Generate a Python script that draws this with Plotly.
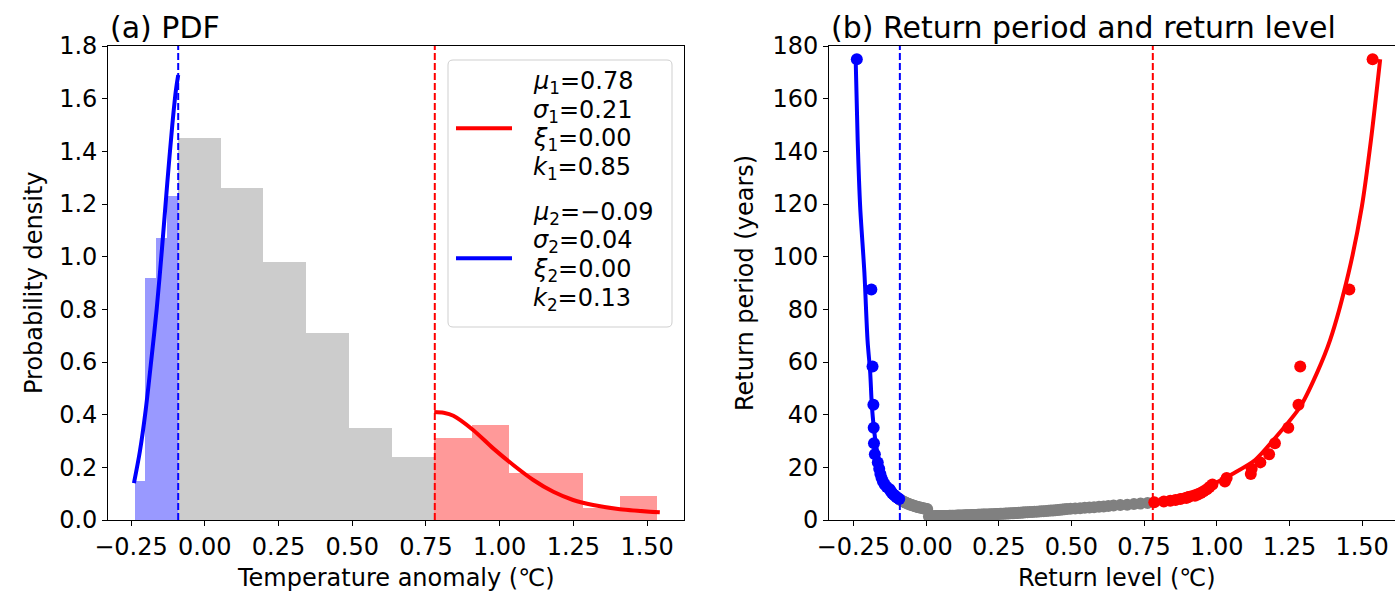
import plotly.graph_objects as go

# ---------------- data ----------------
# fitted tail parameters (upper tail = 1, lower tail = 2)
mu = [0.78, -0.09]
sigma = [0.21, 0.04]
xi = [0.00, 0.00]
kk = [0.85, 0.13]

# histogram (density) of temperature anomalies, split by tail
blue_edges = [-0.236, -0.200, -0.163, -0.127, -0.090]
blue_density = [0.15, 0.92, 1.07, 1.23]
gray_edges = [-0.090, 0.055, 0.200, 0.345, 0.490, 0.635, 0.780]
gray_density = [1.45, 1.26, 0.98, 0.71, 0.35, 0.24]
red_edges = [0.780, 0.906, 1.031, 1.157, 1.283, 1.409, 1.535]
red_density = [0.31, 0.36, 0.18, 0.18, 0.045, 0.09]

# fitted tail densities
blue_pdf_x = [-0.240, -0.220, -0.200, -0.180, -0.163, -0.145, -0.127, -0.110, -0.098, -0.090]
blue_pdf_y = [0.14, 0.26, 0.42, 0.62, 0.80, 1.03, 1.28, 1.50, 1.63, 1.69]
red_pdf_x = [0.778, 0.810, 0.843, 0.910, 0.978, 1.046, 1.114, 1.182, 1.249, 1.317, 1.408, 1.543]
red_pdf_y = [0.41, 0.407, 0.396, 0.342, 0.272, 0.209, 0.152, 0.107, 0.076, 0.057, 0.041, 0.029]

# empirical return periods (years) of the observations
blue_rl_x = [-0.238, -0.188, -0.184, -0.181, -0.180, -0.179, -0.176, -0.166, -0.161,
             -0.157, -0.153, -0.148, -0.142, -0.135, -0.125, -0.121, -0.117, -0.112,
             -0.107, -0.102, -0.097, -0.092]
blue_rl_T = [175.0, 87.5, 58.33, 43.75, 35.0, 29.17, 25.0, 21.88, 19.44, 17.5, 15.91,
             14.58, 13.46, 12.5, 11.67, 10.94, 10.29, 9.72, 9.21, 8.75, 8.33, 7.95]

gray_rl_x = [-0.088, -0.083, -0.078, -0.073, -0.068, -0.063, -0.058, -0.054, -0.049, -0.044,
             -0.040, -0.035, -0.030, -0.026, -0.021, -0.016, -0.011, -0.006, -0.001, 0.004,
             0.010, 0.013, 0.016, 0.018, 0.021, 0.024, 0.026, 0.029, 0.032, 0.034,
             0.037, 0.040, 0.042, 0.045, 0.048, 0.050, 0.053,
             0.057, 0.062, 0.066, 0.071, 0.075, 0.080, 0.084, 0.089, 0.093, 0.098,
             0.102, 0.107, 0.111, 0.116, 0.120, 0.125, 0.129, 0.134, 0.138, 0.143,
             0.147, 0.152, 0.156, 0.161, 0.165, 0.170, 0.174, 0.179, 0.183, 0.188,
             0.192, 0.197,
             0.203, 0.209, 0.215, 0.220, 0.226, 0.232, 0.238, 0.244, 0.249, 0.255,
             0.261, 0.267, 0.273, 0.278, 0.284, 0.290, 0.296, 0.302, 0.307, 0.313,
             0.319, 0.325, 0.331, 0.336, 0.342,
             0.349, 0.357, 0.365, 0.373, 0.381, 0.389, 0.397, 0.405, 0.413, 0.421,
             0.429, 0.437, 0.445, 0.453, 0.461, 0.469, 0.477, 0.485,
             0.497, 0.513, 0.530, 0.546, 0.562, 0.578, 0.595, 0.611, 0.627,
             0.645, 0.668, 0.692, 0.715, 0.738, 0.762]
gray_rl_T = [7.61, 7.29, 7.00, 6.73, 6.48, 6.25, 6.03, 5.83, 5.65, 5.47,
             5.30, 5.15, 5.00, 4.86, 4.73, 4.61, 4.49, 4.38, 4.27, 4.17,
             1.32, 1.33, 1.34, 1.35, 1.36, 1.37, 1.38, 1.39, 1.40, 1.41,
             1.42, 1.43, 1.45, 1.46, 1.47, 1.48, 1.50,
             1.51, 1.52, 1.54, 1.55, 1.56, 1.58, 1.59, 1.61, 1.62, 1.64,
             1.65, 1.67, 1.68, 1.70, 1.72, 1.73, 1.75, 1.77, 1.79, 1.80,
             1.82, 1.84, 1.86, 1.88, 1.90, 1.92, 1.94, 1.97, 1.99, 2.01,
             2.03, 2.06,
             2.08, 2.11, 2.13, 2.16, 2.19, 2.22, 2.24, 2.27, 2.30, 2.33,
             2.36, 2.40, 2.43, 2.46, 2.50, 2.54, 2.57, 2.61, 2.65, 2.69,
             2.73, 2.78, 2.82, 2.87, 2.92,
             2.97, 3.02, 3.07, 3.13, 3.18, 3.24, 3.30, 3.37, 3.43, 3.50,
             3.57, 3.65, 3.72, 3.80, 3.89, 3.98, 4.07, 4.17,
             4.27, 4.38, 4.49, 4.61, 4.73, 4.86, 5.00, 5.15, 5.30,
             5.47, 5.65, 5.83, 6.03, 6.25, 6.48]

red_rl_x = [0.785, 0.818, 0.840, 0.858, 0.875, 0.895, 0.903, 0.925, 0.935, 0.945,
            0.955, 0.966, 0.975, 0.985, 1.028, 1.034, 1.117, 1.120, 1.150, 1.180,
            1.200, 1.246, 1.281, 1.287, 1.456, 1.536]
red_rl_T = [6.73, 7.00, 7.29, 7.61, 7.95, 8.33, 8.75, 9.21, 9.72, 10.29,
            10.94, 11.67, 12.5, 13.46, 14.58, 15.91, 17.5, 19.44, 21.88, 25.0,
            29.17, 35.0, 43.75, 58.33, 87.5, 175.0]

# fitted return-level curves
blue_fit_x = [-0.242, -0.235, -0.2265, -0.212, -0.201, -0.192, -0.186, -0.174, -0.163,
              -0.155, -0.140, -0.115, -0.090]
blue_fit_T = [175, 144, 119, 94, 68, 56, 43, 30, 23, 17.7, 12.6, 8.9, 7.6]
red_fit_x = [0.778, 0.862, 0.966, 1.057, 1.132, 1.195, 1.287, 1.344, 1.390, 1.453,
             1.499, 1.530, 1.562]
red_fit_T = [6.8, 8.9, 12.6, 17.7, 22.8, 30.4, 43, 55.7, 68.4, 93.7, 119, 144, 175]

# axis ticks
x_ticks = [-0.25, 0.0, 0.25, 0.5, 0.75, 1.0, 1.25, 1.5]
x_ticklabels = ["\u22120.25", "0.00", "0.25", "0.50", "0.75", "1.00", "1.25", "1.50"]
pdf_ticks = [0.0, 0.2, 0.4, 0.6, 0.8, 1.0, 1.2, 1.4, 1.6, 1.8]
pdf_ticklabels = ["0.0", "0.2", "0.4", "0.6", "0.8", "1.0", "1.2", "1.4", "1.6", "1.8"]
rp_ticks = [0, 20, 40, 60, 80, 100, 120, 140, 160, 180]

# ---------------- figure ----------------
W, H = 1395, 601
FONT = "DejaVu Sans"
FS = 24
TITLE_FS = 30
BLUE, RED, GRAY = "#0000ff", "#ff0000", "#808080"


def px(x):
    return x / W


def py(y):
    return 1 - y / H


fig = go.Figure()


def hist_bars(edges, dens, color):
    centers = [(a + b) / 2 for a, b in zip(edges[:-1], edges[1:])]
    widths = [b - a for a, b in zip(edges[:-1], edges[1:])]
    return go.Bar(x=centers, y=dens, width=widths, marker=dict(color=color, line=dict(width=0)),
                  showlegend=False, xaxis="x", yaxis="y")


fig.add_trace(hist_bars(blue_edges, blue_density, "rgba(0,0,255,0.4)"))
fig.add_trace(hist_bars(gray_edges, gray_density, "rgba(128,128,128,0.4)"))
fig.add_trace(hist_bars(red_edges, red_density, "rgba(255,0,0,0.4)"))


def fmt(v):
    return f"{v:.2f}".replace("-", "\u2212")


def label_lines(i):
    n = i + 1
    return [f"<i>\u03bc</i><sub>{n}</sub>={fmt(mu[i])}",
            f"<i>\u03c3</i><sub>{n}</sub>={fmt(sigma[i])}",
            f"<i>\u03be</i><sub>{n}</sub>={fmt(xi[i])}",
            f"<i>k</i><sub>{n}</sub>={fmt(kk[i])}"]


fig.add_trace(go.Scatter(x=red_pdf_x, y=red_pdf_y, mode="lines",
                         line=dict(color=RED, width=4, shape="spline", smoothing=0.8),
                         name="upper tail", showlegend=False, xaxis="x", yaxis="y"))
fig.add_trace(go.Scatter(x=blue_pdf_x, y=blue_pdf_y, mode="lines",
                         line=dict(color=BLUE, width=4, shape="spline", smoothing=0.8),
                         name="lower tail", showlegend=False, xaxis="x", yaxis="y"))

# return period panel
fig.add_trace(go.Scatter(x=gray_rl_x, y=gray_rl_T, mode="markers",
                         marker=dict(color=GRAY, size=12, line=dict(width=0)),
                         showlegend=False, xaxis="x2", yaxis="y2"))
fig.add_trace(go.Scatter(x=blue_rl_x, y=blue_rl_T, mode="markers",
                         marker=dict(color=BLUE, size=12, line=dict(width=0)),
                         showlegend=False, xaxis="x2", yaxis="y2"))
fig.add_trace(go.Scatter(x=red_rl_x, y=red_rl_T, mode="markers",
                         marker=dict(color=RED, size=12, line=dict(width=0)),
                         showlegend=False, xaxis="x2", yaxis="y2"))
fig.add_trace(go.Scatter(x=blue_fit_x, y=blue_fit_T, mode="lines",
                         line=dict(color=BLUE, width=4, shape="spline", smoothing=0.8),
                         showlegend=False, xaxis="x2", yaxis="y2"))
fig.add_trace(go.Scatter(x=red_fit_x, y=red_fit_T, mode="lines",
                         line=dict(color=RED, width=4, shape="spline", smoothing=0.8),
                         showlegend=False, xaxis="x2", yaxis="y2"))

# thresholds
for xa, ya in (("x", "y"), ("x2", "y2")):
    for m, c in ((mu[1], BLUE), (mu[0], RED)):
        fig.add_shape(type="line", xref=xa, yref=f"{ya} domain", x0=m, x1=m, y0=0, y1=1,
                      line=dict(color=c, width=2, dash="7px,3px"), layer="above")

# legend box for the fitted parameters (rounded frame, line keys, text)
bx0, bx1, by0, by1, r = 448, 672, 60, 327, 5
path = (f"M {px(bx0 + r)},{py(by0)} L {px(bx1 - r)},{py(by0)} "
        f"Q {px(bx1)},{py(by0)} {px(bx1)},{py(by0 + r)} L {px(bx1)},{py(by1 - r)} "
        f"Q {px(bx1)},{py(by1)} {px(bx1 - r)},{py(by1)} L {px(bx0 + r)},{py(by1)} "
        f"Q {px(bx0)},{py(by1)} {px(bx0)},{py(by1 - r)} L {px(bx0)},{py(by0 + r)} "
        f"Q {px(bx0)},{py(by0)} {px(bx0 + r)},{py(by0)} Z")
fig.add_shape(type="path", xref="paper", yref="paper", path=path,
              fillcolor="rgba(255,255,255,0.8)", line=dict(color="#cfcfcf", width=1), layer="above")

annotations = []
for i, (color, key_y, first_y) in enumerate(((RED, 128.3, 82.5), (BLUE, 258.3, 213.0))):
    fig.add_shape(type="line", xref="paper", yref="paper", x0=px(456), x1=px(512),
                  y0=py(key_y), y1=py(key_y), line=dict(color=color, width=4), layer="above")
    for j, txt in enumerate(label_lines(i)):
        annotations.append(dict(text=txt, xref="paper", yref="paper", x=px(531),
                                 y=py(first_y + 28.7 * j), xanchor="left", yanchor="middle",
                                 showarrow=False, font=dict(family=FONT, size=FS, color="black")))

# panel titles and axis titles
annotations += [
    dict(text="(a) PDF", xref="x domain", yref="paper", x=0, y=py(46), xanchor="left",
         yanchor="bottom", showarrow=False, yshift=-1, font=dict(family=FONT, size=TITLE_FS)),
    dict(text="(b) Return period and return level", xref="x2 domain", yref="paper",
         x=0, y=py(46), xanchor="left", yanchor="bottom", showarrow=False, yshift=-1,
         font=dict(family=FONT, size=TITLE_FS)),
    dict(text="Temperature anomaly (\u2103)", xref="x domain", yref="paper", x=0.5, y=py(578),
         xanchor="center", yanchor="middle", showarrow=False, font=dict(family=FONT, size=FS)),
    dict(text="Return level (\u2103)", xref="paper", yref="paper", x=px(1117), y=py(578),
         xanchor="center", yanchor="middle", showarrow=False, font=dict(family=FONT, size=FS)),
    dict(text="Probability density", xref="paper", yref="y domain", x=px(34), y=0.5,
         xanchor="center", yanchor="middle", textangle=-90, showarrow=False,
         font=dict(family=FONT, size=FS)),
    dict(text="Return period (years)", xref="paper", yref="y2 domain", x=px(745), y=0.5,
         xanchor="center", yanchor="middle", textangle=-90, showarrow=False,
         font=dict(family=FONT, size=FS)),
]

# layout geometry (pixels -> paper fractions)
left_dom = [px(108.3), px(684.0)]
right_dom = [px(829.2), 1.0]
y_dom = [py(520.0), py(46.0)]

axis_common = dict(showline=True, linecolor="black", linewidth=1.2, ticks="outside",
                   ticklen=5, tickwidth=1.2, tickcolor="black", showgrid=False, zeroline=False,
                   automargin=False, tickfont=dict(family=FONT, size=FS, color="black"))

fig.update_layout(
    width=W, height=H, margin=dict(l=0, r=0, t=0, b=0),
    paper_bgcolor="white", plot_bgcolor="white",
    font=dict(family=FONT, color="black"),
    bargap=0, barmode="overlay", showlegend=False,
    xaxis=dict(domain=left_dom, range=[-0.327, 1.625], tickvals=x_ticks, ticktext=x_ticklabels,
               mirror=True, anchor="y", **axis_common),
    yaxis=dict(domain=y_dom, range=[0, 1.8], tickvals=pdf_ticks, ticktext=pdf_ticklabels,
               mirror=True, anchor="x", **axis_common),
    xaxis2=dict(domain=right_dom, range=[-0.333, 1.613], tickvals=x_ticks, ticktext=x_ticklabels,
                mirror=True, anchor="y2", **axis_common),
    yaxis2=dict(domain=y_dom, range=[0, 180], tickvals=rp_ticks,
                mirror=False, anchor="x2", **axis_common),
    annotations=annotations,
)

fig.write_html("out.html")
